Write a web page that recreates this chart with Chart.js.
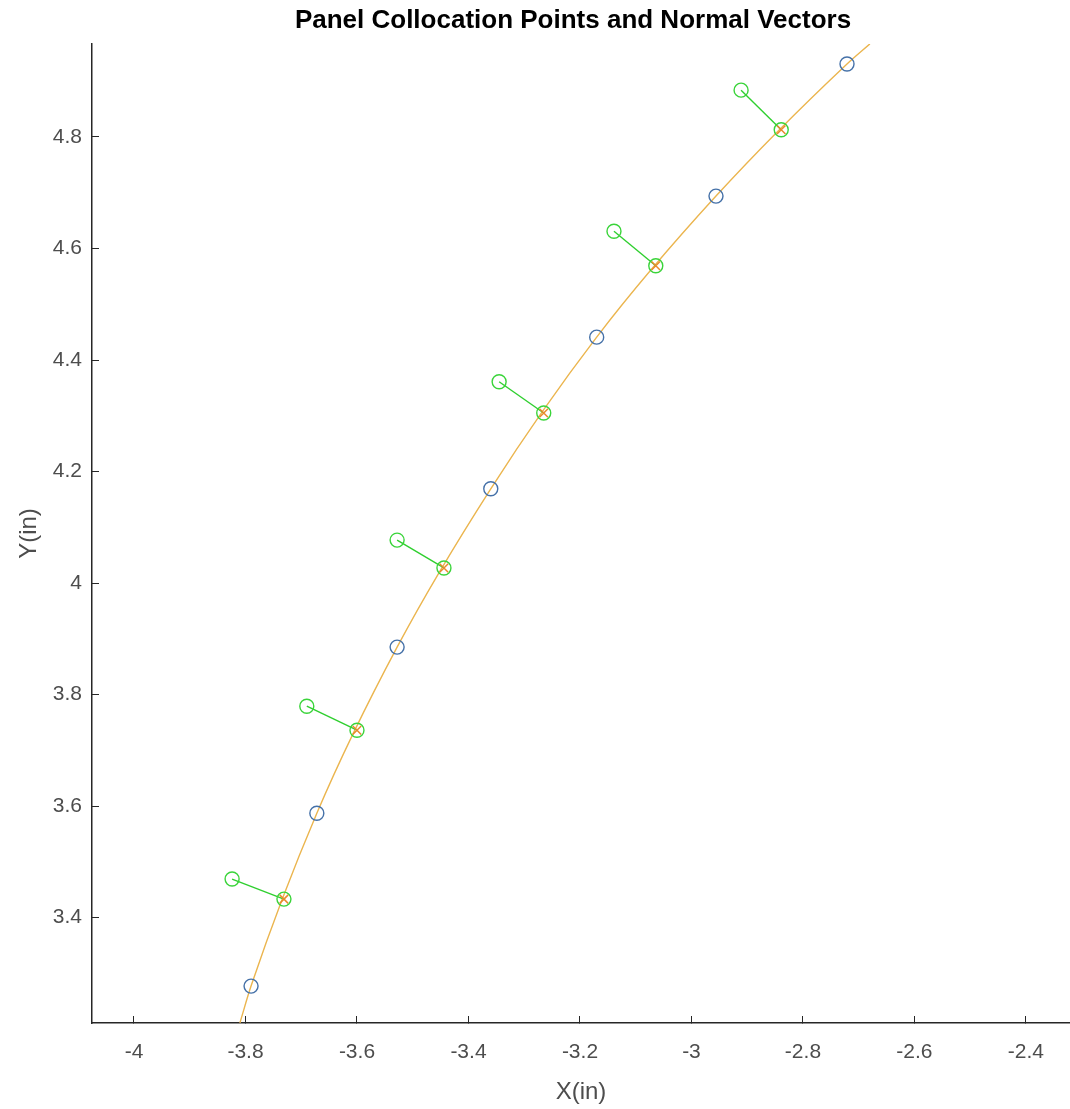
<!DOCTYPE html>
<html>
<head>
<meta charset="utf-8">
<title>Panel Collocation Points and Normal Vectors</title>
<script src="https://cdn.jsdelivr.net/npm/chart.js@4.4.1/dist/chart.umd.min.js"></script>
<style>
  html, body { margin: 0; padding: 0; background: #ffffff; overflow: hidden; }
  #wrap { width: 1070px; height: 1109px; position: relative; }
  #panelChart { display: block; }
</style>
</head>
<body>
<div id="wrap"><canvas id="panelChart"></canvas></div>
<script>
// surface line (orange)
var surfX = [-3.810, -3.790, -3.672, -3.528, -3.360, -3.170, -2.956, -2.721, -2.680];
var surfY = [3.211, 3.277, 3.587, 3.885, 4.169, 4.441, 4.694, 4.931, 4.967];

// panel end points (blue circles)
var panelX = [-3.790, -3.672, -3.528, -3.360, -3.170, -2.956, -2.721];
var panelY = [3.277, 3.587, 3.885, 4.169, 4.441, 4.694, 4.931];

// collocation points (x marks)
var colX = [-3.731, -3.600, -3.444, -3.265, -3.064, -2.839];
var colY = [3.433, 3.736, 4.027, 4.305, 4.569, 4.813];

// tips of the normal vectors
var normX = [-3.824, -3.690, -3.528, -3.345, -3.139, -2.911];
var normY = [3.469, 3.779, 4.077, 4.361, 4.631, 4.884];

var xTicks = [-4, -3.8, -3.6, -3.4, -3.2, -3, -2.8, -2.6, -2.4];
var yTicks = [3.4, 3.6, 3.8, 4, 4.2, 4.4, 4.6, 4.8];

var titleText = 'Panel Collocation Points and Normal Vectors';

function toPoints(xs, ys) {
  var pts = [];
  for (var i = 0; i < xs.length; i++) {
    pts.push({x: xs[i], y: ys[i]});
  }
  return pts;
}

var datasets = [];

// x marks on top
datasets.push({
  label: 'Collocation',
  data: toPoints(colX, colY),
  showLine: false,
  pointStyle: 'crossRot',
  pointRadius: 6,
  pointBorderColor: '#e98a2c',
  pointBorderWidth: 1.5,
  pointBackgroundColor: 'transparent'
});

// one little line per normal vector
for (var k = 0; k < colX.length; k++) {
  datasets.push({
    label: 'Normal ' + (k + 1),
    data: [{x: colX[k], y: colY[k]}, {x: normX[k], y: normY[k]}],
    showLine: true,
    borderColor: '#2fcf2f',
    borderWidth: 1.4,
    pointStyle: 'circle',
    pointRadius: 7,
    pointBorderColor: '#3ad43a',
    pointBorderWidth: 1.4,
    pointBackgroundColor: 'transparent'
  });
}

datasets.push({
  label: 'Panels',
  data: toPoints(panelX, panelY),
  showLine: false,
  pointStyle: 'circle',
  pointRadius: 7,
  pointBorderColor: '#4571a8',
  pointBorderWidth: 1.4,
  pointBackgroundColor: 'transparent'
});

datasets.push({
  label: 'Surface',
  data: toPoints(surfX, surfY),
  showLine: true,
  borderColor: '#ebb54e',
  borderWidth: 1.4,
  cubicInterpolationMode: 'monotone',
  pointRadius: 0
});

// title over the axes like matlab does
var titlePlugin = {
  id: 'axesTitle',
  afterDraw: function(chart) {
    var ctx = chart.ctx;
    var area = chart.chartArea;
    ctx.save();
    ctx.font = 'bold 26px "Liberation Sans", Arial, sans-serif';
    ctx.fillStyle = '#000000';
    ctx.textAlign = 'center';
    ctx.textBaseline = 'middle';
    ctx.fillText(titleText, (area.left + area.right) / 2 - 8, 21);
    ctx.restore();
  }
};

var tickFont = {family: '"Liberation Sans", Arial, sans-serif', size: 21};
var labelFont = {family: '"Liberation Sans", Arial, sans-serif', size: 24};

var options = {
  responsive: true,
  maintainAspectRatio: false,
  animation: false,
  layout: {autoPadding: false, padding: {top: 44, left: 0, right: 0, bottom: 0}},
  plugins: {
    legend: {display: false},
    tooltip: {enabled: false}
  },
  scales: {
    x: {
      type: 'linear',
      min: -4.0753,
      max: -2.321,
      grid: {drawOnChartArea: false, tickLength: -7, color: '#262626'},
      border: {color: '#262626', width: 1.5},
      afterBuildTicks: function(scale) {
        scale.ticks = xTicks.map(function(v) { return {value: v}; });
      },
      afterFit: function(scale) {
        scale.height = 86;
        scale.paddingRight = 0;
        scale.paddingLeft = 0;
      },
      ticks: {
        font: tickFont,
        color: '#4d4d4d',
        padding: 24,
        maxRotation: 0,
        callback: function(v) { return String(Number(v.toFixed(1))); }
      },
      title: {display: true, text: 'X(in)', font: labelFont, color: '#4d4d4d', padding: {top: 0, bottom: 2}}
    },
    y: {
      type: 'linear',
      min: 3.2108,
      max: 4.9668,
      grid: {drawOnChartArea: false, tickLength: -7, color: '#262626'},
      border: {color: '#262626', width: 1.5},
      afterBuildTicks: function(scale) {
        scale.ticks = yTicks.map(function(v) { return {value: v}; });
      },
      afterFit: function(scale) {
        scale.width = 92;
        scale.paddingTop = 0;
        scale.paddingBottom = 0;
      },
      ticks: {
        font: tickFont,
        color: '#4d4d4d',
        padding: 17,
        callback: function(v) { return String(Number(v.toFixed(1))); }
      },
      title: {display: true, text: 'Y(in)', font: labelFont, color: '#4d4d4d', padding: {top: 15, bottom: 0}}
    }
  }
};

new Chart(document.getElementById('panelChart').getContext('2d'), {
  type: 'scatter',
  data: {datasets: datasets},
  options: options,
  plugins: [titlePlugin]
});
</script>
</body>
</html>
